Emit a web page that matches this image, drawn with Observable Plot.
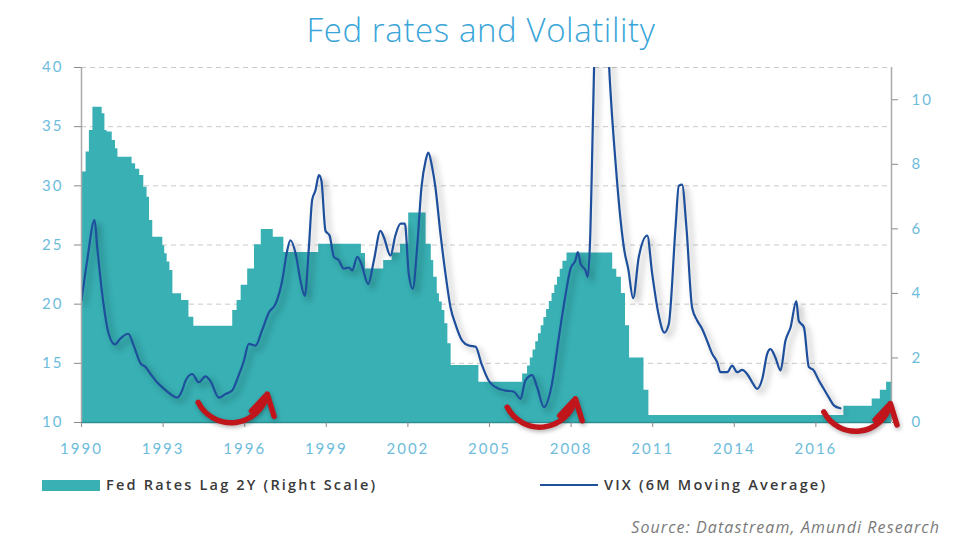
<!DOCTYPE html>
<html>
<head>
<meta charset="utf-8">
<script src="https://cdn.jsdelivr.net/npm/d3@7"></script>
<script src="https://cdn.jsdelivr.net/npm/@observablehq/plot@0.6"></script>
<style>
  html, body { margin: 0; padding: 0; background: #fff; }
  #wrap { position: relative; width: 960px; height: 540px; overflow: hidden; }
  #title { position: absolute; top: 7px; left: 0; width: 962px; text-align: center;
           font-family: "Open Sans", sans-serif; font-weight: 300; font-size: 33px; letter-spacing: 0.6px; color: #3aa5d8; }
  #chart { position: absolute; top: 55px; left: 0; }
  .leg { position: absolute; font-family: "Open Sans", sans-serif; font-weight: 600; font-size: 14.5px;
         color: #3a3a3a; letter-spacing: 2.2px; line-height: 16px; white-space: nowrap; }
  #caption { position: absolute; right: 20px; top: 516px; font-family: "Open Sans", sans-serif;
             font-style: italic; font-size: 16px; color: #7a7a7a; letter-spacing: 1.1px; white-space: nowrap; }
</style>
</head>
<body>
<div id="wrap">
  <div id="title">Fed rates and Volatility</div>
  <div id="chart"></div>
  <div id="leg1" class="leg" style="left:42px; top:477px;">
    <span style="display:inline-block;width:58px;height:11px;background:#38b0b4;vertical-align:-1px;margin-right:6px;"></span>Fed Rates Lag 2Y (Right Scale)
  </div>
  <div id="leg2" class="leg" style="left:540px; top:477px;">
    <span style="display:inline-block;width:58px;height:2.5px;background:#1d4f9c;vertical-align:4px;margin-right:6px;"></span>VIX (6M Moving Average)
  </div>
  <div id="caption">Source: Datastream, Amundi Research</div>
</div>
<script>
// ---- Data ----
// Fed funds rate lagged 2 years (right scale, %), step changes
const fedYears = [1990.0, 1990.17, 1990.29, 1990.42, 1990.76, 1990.86, 1990.94, 1991.13, 1991.25, 1991.34,
  1991.86, 1991.99, 1992.14, 1992.29, 1992.41, 1992.5, 1992.62, 1992.99, 1993.06, 1993.15,
  1993.25, 1993.36, 1993.68, 1993.95, 1994.13, 1995.56, 1995.72, 1995.87, 1996.11, 1996.36,
  1996.61, 1997.05, 1997.44, 1998.72, 2000.29, 2000.44, 2001.11, 2001.42, 2001.73, 2002.03,
  2002.67, 2002.86, 2002.95, 2003.08, 2003.16, 2003.26, 2003.36, 2003.47, 2003.59, 2004.61,
  2006.22, 2006.4, 2006.5, 2006.6, 2006.7, 2006.8, 2006.9, 2007.0, 2007.1, 2007.2,
  2007.3, 2007.4, 2007.5, 2007.6, 2007.7, 2007.85, 2009.53, 2009.68, 2009.85, 2010.0,
  2010.15, 2010.68, 2010.86, 2018.03, 2019.07, 2019.37, 2019.6, 2019.78];
const fedRates = [7.76, 8.38, 9.05, 9.77, 9.57, 9.05, 9.0, 8.74, 8.48, 8.22,
  8.02, 7.85, 7.65, 7.29, 6.98, 6.26, 5.74, 5.48, 5.23, 4.97,
  4.71, 3.99, 3.78, 3.26, 2.98, 3.47, 3.78, 4.25, 4.76, 5.51,
  5.98, 5.74, 5.27, 5.52, 5.24, 4.76, 5.02, 5.25, 5.52, 6.49,
  5.52, 5.02, 4.5, 3.99, 3.73, 3.47, 3.06, 2.44, 1.77, 1.25,
  1.5, 1.75, 2.0, 2.25, 2.5, 2.75, 3.0, 3.25, 3.5, 3.75,
  4.0, 4.25, 4.5, 4.75, 5.0, 5.25, 4.75, 4.5, 4.0, 3.0,
  2.0, 1.0, 0.22, 0.5, 0.73, 1.0, 1.25, 1.25];

// VIX, 6-month moving average (left scale)
const vixYears = [1990.0, 1990.21, 1990.48, 1990.58, 1990.76, 1991.0, 1991.23, 1991.43, 1991.72, 1991.92,
  1992.17, 1992.35, 1992.54, 1992.78, 1993.03, 1993.27, 1993.52, 1993.7, 1993.82, 1994.07,
  1994.31, 1994.56, 1994.74, 1995.05, 1995.29, 1995.54, 1995.78, 1995.97, 1996.15, 1996.4,
  1996.64, 1996.89, 1997.13, 1997.38, 1997.56, 1997.68, 1997.88, 1998.05, 1998.21, 1998.36,
  1998.48, 1998.6, 1998.73, 1998.82, 1998.97, 1999.12, 1999.28, 1999.46, 1999.64, 1999.83,
  1999.95, 2000.14, 2000.29, 2000.54, 2000.75, 2000.99, 2001.11, 2001.36, 2001.54, 2001.73,
  2001.89, 2002.03, 2002.18, 2002.34, 2002.5, 2002.65, 2002.75, 2002.89, 2003.01, 2003.2,
  2003.38, 2003.57, 2003.75, 2004.0, 2004.24, 2004.49, 2004.7, 2004.97, 2005.34, 2005.59,
  2005.9, 2006.14, 2006.32, 2006.57, 2006.75, 2007.0, 2007.3, 2007.55, 2007.79, 2007.98,
  2008.16, 2008.25, 2008.35, 2008.53, 2008.61, 2008.71, 2008.76, 2008.85, 2009.05, 2009.25,
  2009.4, 2009.47, 2009.63, 2009.82, 2009.96, 2010.1, 2010.28, 2010.49, 2010.8, 2010.98,
  2011.21, 2011.43, 2011.59, 2011.84, 2011.96, 2012.08, 2012.24, 2012.45, 2012.64, 2012.82,
  2013.0, 2013.19, 2013.37, 2013.49, 2013.74, 2013.92, 2014.11, 2014.29, 2014.47, 2014.66,
  2014.84, 2015.03, 2015.21, 2015.33, 2015.51, 2015.7, 2015.88, 2016.07, 2016.28, 2016.37,
  2016.56, 2016.74, 2016.92, 2017.11, 2017.29, 2017.48, 2017.66, 2017.9];
const vixValues = [20.3, 23.7, 27.1, 24.8, 20.9, 17.5, 16.6, 17.1, 17.5, 16.5,
  15.0, 14.7, 14.1, 13.4, 12.85, 12.4, 12.1, 12.7, 13.5, 14.1,
  13.4, 13.9, 13.5, 12.1, 12.4, 12.7, 14.0, 15.2, 16.65, 16.5,
  17.8, 19.3, 20.0, 22.0, 24.5, 25.4, 24.2, 22.0, 20.7, 24.8,
  28.8, 29.6, 30.9, 30.45, 26.2, 25.8, 24.0, 23.7, 23.0, 23.1,
  22.85, 24.0, 23.4, 21.7, 23.7, 26.2, 25.7, 24.1, 25.8, 26.8,
  26.8, 22.6, 21.3, 24.8, 29.9, 32.1, 32.8, 31.6, 29.9, 25.9,
  22.6, 19.7, 18.3, 16.9, 16.5, 16.4, 15.0, 13.55, 12.85, 12.7,
  12.6, 12.0, 13.55, 14.0, 13.0, 11.3, 13.3, 17.2, 20.7, 23.0,
  23.7, 24.4, 23.4, 22.85, 22.3, 26.2, 31.0, 40.5, 50.0, 50.0,
  40.0, 37.2, 32.1, 27.1, 24.5, 23.0, 20.5, 24.0, 25.8, 22.6,
  19.2, 17.6, 18.3, 26.5, 30.0, 30.1, 26.5, 19.7, 18.6, 17.9,
  16.9, 15.8, 15.1, 14.25, 14.25, 14.8, 14.25, 14.45, 14.1, 13.4,
  12.85, 13.7, 15.8, 16.2, 15.5, 14.4, 16.9, 18.05, 20.25, 18.6,
  18.05, 14.7, 14.4, 13.55, 12.85, 12.1, 11.45, 11.2];

const leftTicks = [10, 15, 20, 25, 30, 35, 40];
const rightTicks = [0, 2, 4, 6, 8, 10];
const rightMax = 11;
const xTickYears = [1990, 1993, 1996, 1999, 2002, 2005, 2008, 2011, 2014, 2017];
const xTickLabels = ["1990", "1993", "1996", "1999", "2002", "2005", "2008", "2011", "2014", "2016"];
const xStart = 1990, xEnd = 2019.78;

// Red turning-point arrows (year, VIX-scale level)
const arrowFromYear = [1994.29, 2005.65, 2017.29];
const arrowFromLevel = [11.7, 11.3, 10.9];
const arrowToYear = [1996.83, 2008.16, 2019.74];
const arrowToLevel = [12.4, 12.0, 11.6];

// ---- Build tables ----
const toLeft = r => 10 + r * 30 / rightMax;
const fed = fedYears.map((x, i) => ({x, y: toLeft(fedRates[i])}));
const vix = vixYears.map((x, i) => ({x, y: vixValues[i]}));
const arrows = arrowFromYear.map((x1, i) => ({x1, y1: arrowFromLevel[i], x2: arrowToYear[i], y2: arrowToLevel[i]}));
const xLabelOf = new Map(xTickYears.map((y, i) => [y, xTickLabels[i]]));
const rightPos = rightTicks.map(toLeft);
const rightLabelOf = new Map(rightPos.map((p, i) => [p, String(rightTicks[i])]));

const tickText = "#6dbcdb";
const chart = Plot.plot({
  width: 960,
  height: 420,
  marginTop: 12,
  marginBottom: 53,
  marginLeft: 81,
  marginRight: 69,
  x: {domain: [xStart, xEnd]},
  y: {domain: [10, 40]},
  style: {fontFamily: "Lato, 'Open Sans', sans-serif", fontSize: "15px", background: "transparent", letterSpacing: "2px", overflow: "visible"},
  marks: [
    Plot.ruleY(leftTicks.slice(1), {stroke: "#c9c9c9", strokeDasharray: "5,4", strokeWidth: 1}),
    Plot.area(fed, {x1: "x", y1: 10, y2: "y", curve: "step-after", fill: "#38b0b4"}),
    Plot.ruleY([10], {stroke: "#2c8e93", strokeWidth: 1.5}),
    Plot.line(vix, {x: "x", y: "y", stroke: "#1d4f9c", strokeWidth: 2.2, curve: "monotone-x", clip: true}),
    Plot.ruleX([xStart, xEnd], {stroke: "#aaaaaa", strokeWidth: 1.5}),
    Plot.axisY(leftTicks, {anchor: "left", tickSize: 7, tickPadding: 11, stroke: "#8a8a8a", fill: tickText, label: null}),
    Plot.axisY(rightPos, {anchor: "right", tickSize: 6, tickPadding: 14, stroke: "#8a8a8a", fill: tickText, label: null,
      tickFormat: d => rightLabelOf.get(d)}),
    Plot.axisX(xTickYears, {anchor: "bottom", tickSize: 5, tickPadding: 16, stroke: "#8a8a8a", fill: tickText, label: null,
      tickFormat: d => xLabelOf.get(d)}),
    Plot.arrow(arrows, {x1: "x1", y1: "y1", x2: "x2", y2: "y2", bend: -70, stroke: "#c0161b",
      strokeWidth: 5.5, headLength: 12, headAngle: 60})
  ]
});
const lineG = chart.querySelector('g[aria-label="line"]');
if (lineG) lineG.style.filter = "drop-shadow(4px 4px 3px rgba(0,0,0,0.35))";
const arrowG = chart.querySelector('g[aria-label="arrow"]');
if (arrowG) arrowG.style.filter = "drop-shadow(1px 2px 2px rgba(0,0,0,0.3))";
document.getElementById("chart").appendChild(chart);
</script>
</body>
</html>
